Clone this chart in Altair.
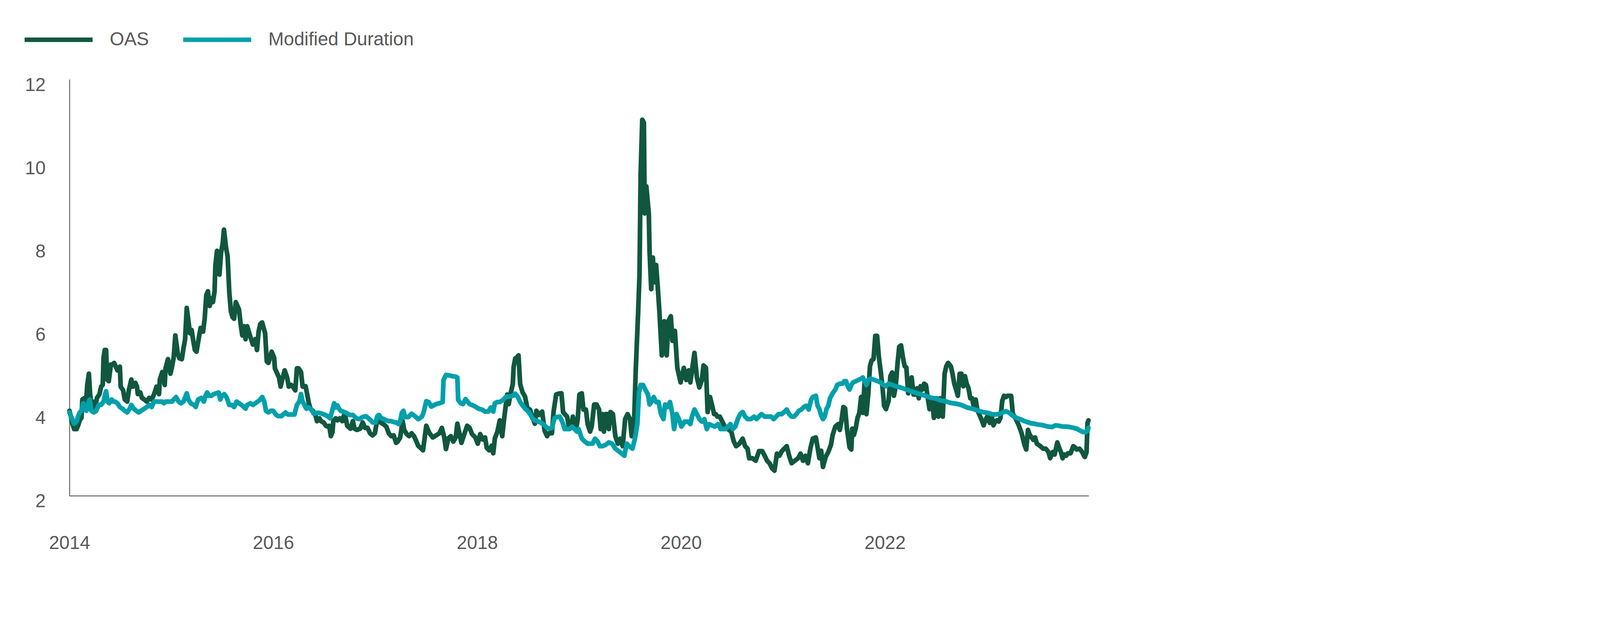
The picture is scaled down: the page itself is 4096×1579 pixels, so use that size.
import altair as alt
import pandas as pd

# ---- data (decimal year, value) ----
OAS_YEARS = [
2014.000,2014.014,2014.030,2014.046,2014.070,2014.086,2014.102,2014.118,2014.127,2014.151,2014.162,2014.175,2014.191,2014.203,2014.215,2014.231,2014.247,2014.271,2014.295,2014.311,
2014.327,2014.335,2014.347,2014.360,2014.370,2014.386,2014.407,2014.423,2014.439,2014.455,2014.471,2014.495,2014.503,2014.527,2014.543,2014.567,2014.583,2014.607,2014.623,2014.647,
2014.663,2014.671,2014.695,2014.711,2014.735,2014.759,2014.783,2014.807,2014.831,2014.855,2014.879,2014.887,2014.911,2014.935,2014.943,2014.967,2014.991,2015.007,2015.023,2015.039,
2015.063,2015.079,2015.103,2015.119,2015.135,2015.151,2015.167,2015.183,2015.199,2015.215,2015.231,2015.247,2015.271,2015.287,2015.311,2015.327,2015.343,2015.359,2015.376,2015.392,
2015.408,2015.424,2015.432,2015.448,2015.464,2015.472,2015.488,2015.504,2015.516,2015.536,2015.552,2015.568,2015.584,2015.600,2015.616,2015.632,2015.648,2015.664,2015.680,2015.696,
2015.712,2015.728,2015.744,2015.760,2015.776,2015.800,2015.824,2015.840,2015.856,2015.872,2015.891,2015.920,2015.936,2015.952,2015.968,2015.984,2016.008,2016.016,2016.032,2016.056,
2016.072,2016.088,2016.112,2016.136,2016.152,2016.176,2016.192,2016.216,2016.232,2016.248,2016.272,2016.288,2016.317,2016.333,2016.349,2016.365,2016.389,2016.413,2016.429,2016.453,
2016.469,2016.493,2016.517,2016.533,2016.549,2016.565,2016.581,2016.589,2016.613,2016.629,2016.653,2016.677,2016.701,2016.725,2016.757,2016.781,2016.797,2016.821,2016.853,2016.877,
2016.901,2016.925,2016.949,2016.973,2016.997,2017.021,2017.053,2017.085,2017.109,2017.133,2017.157,2017.181,2017.205,2017.221,2017.245,2017.269,2017.285,2017.309,2017.333,2017.357,
2017.381,2017.405,2017.421,2017.445,2017.469,2017.501,2017.533,2017.565,2017.598,2017.630,2017.654,2017.678,2017.694,2017.718,2017.742,2017.766,2017.790,2017.806,2017.830,2017.846,
2017.870,2017.902,2017.926,2017.950,2017.982,2018.006,2018.030,2018.054,2018.078,2018.094,2018.118,2018.142,2018.158,2018.174,2018.198,2018.222,2018.246,2018.262,2018.294,2018.310,
2018.326,2018.350,2018.358,2018.374,2018.390,2018.406,2018.422,2018.446,2018.470,2018.494,2018.518,2018.542,2018.566,2018.582,2018.606,2018.638,2018.662,2018.686,2018.702,2018.734,
2018.750,2018.775,2018.799,2018.827,2018.843,2018.859,2018.883,2018.899,2018.923,2018.939,2018.955,2018.971,2018.987,2019.003,2019.027,2019.043,2019.067,2019.084,2019.108,2019.124,
2019.148,2019.172,2019.196,2019.212,2019.228,2019.244,2019.260,2019.276,2019.292,2019.308,2019.332,2019.356,2019.380,2019.404,2019.428,2019.452,2019.476,2019.500,2019.516,2019.540,
2019.556,2019.580,2019.593,2019.604,2019.620,2019.636,2019.644,2019.660,2019.684,2019.692,2019.708,2019.724,2019.740,2019.756,2019.772,2019.788,2019.812,2019.836,2019.860,2019.876,
2019.900,2019.916,2019.940,2019.964,2019.996,2020.028,2020.052,2020.076,2020.092,2020.108,2020.132,2020.156,2020.180,2020.205,2020.221,2020.245,2020.261,2020.285,2020.309,2020.325,
2020.341,2020.357,2020.381,2020.405,2020.429,2020.461,2020.493,2020.517,2020.541,2020.573,2020.605,2020.629,2020.653,2020.669,2020.701,2020.733,2020.765,2020.797,2020.821,2020.845,
2020.869,2020.893,2020.917,2020.941,2020.965,2020.989,2021.013,2021.037,2021.061,2021.085,2021.117,2021.149,2021.173,2021.197,2021.221,2021.245,2021.269,2021.293,2021.323,2021.340,
2021.358,2021.375,2021.393,2021.419,2021.445,2021.471,2021.488,2021.514,2021.541,2021.558,2021.575,2021.593,2021.610,2021.628,2021.654,2021.671,2021.680,2021.697,2021.715,2021.732,
2021.750,2021.767,2021.784,2021.802,2021.819,2021.837,2021.854,2021.871,2021.889,2021.906,2021.924,2021.941,2021.959,2021.976,2021.993,2022.011,2022.037,2022.054,2022.072,2022.089,
2022.107,2022.124,2022.141,2022.159,2022.176,2022.194,2022.211,2022.229,2022.246,2022.263,2022.281,2022.298,2022.316,2022.333,2022.350,2022.368,2022.385,2022.403,2022.420,2022.438,
2022.464,2022.481,2022.507,2022.525,2022.542,2022.568,2022.586,2022.603,2022.621,2022.647,2022.664,2022.681,2022.699,2022.716,2022.734,2022.751,2022.769,2022.786,2022.803,2022.821,
2022.838,2022.856,2022.873,2022.891,2022.908,2022.925,2022.951,2022.969,2022.986,2023.004,2023.030,2023.047,2023.065,2023.082,2023.100,2023.117,2023.134,2023.152,2023.169,2023.187,
2023.204,2023.221,2023.239,2023.256,2023.274,2023.291,2023.309,2023.326,2023.343,2023.370,2023.387,2023.404,2023.422,2023.439,2023.457,2023.474,2023.491,2023.509,2023.526,2023.552,
2023.578,2023.605,2023.622,2023.648,2023.666,2023.692,2023.709,2023.727,2023.744,2023.761,2023.779,2023.796,2023.822,2023.849,2023.866,2023.883,2023.909,2023.936,2023.953,2023.962,
2023.979,2023.988,2023.998,
]
OAS_VALUES = [
4.04,3.91,3.73,3.60,3.60,3.69,3.82,3.87,4.31,4.35,4.18,4.66,4.93,4.44,4.18,4.26,4.09,4.35,4.44,4.62,
4.66,5.32,5.50,5.50,4.79,4.75,5.15,5.15,5.19,5.10,5.01,5.10,4.62,4.53,4.31,4.26,4.53,4.79,4.62,4.71,
4.62,4.44,4.48,4.35,4.31,4.26,4.35,4.31,4.44,4.62,4.44,4.79,4.97,4.66,5.06,5.28,4.93,5.10,5.32,5.85,
5.41,5.30,5.28,5.54,5.76,6.51,6.21,5.90,5.98,5.72,5.50,5.46,5.81,6.03,5.94,6.25,6.82,6.91,6.56,6.74,
6.65,6.91,7.53,7.88,7.40,7.31,7.84,8.06,8.39,7.97,7.75,6.91,6.43,6.29,6.25,6.65,6.56,6.47,6.12,5.85,
6.07,5.76,6.07,5.94,5.81,5.63,5.76,5.50,5.94,6.12,6.16,5.90,5.23,5.19,5.32,5.46,5.32,5.06,4.97,4.84,
4.62,4.79,5.01,4.84,4.62,4.66,4.62,4.53,5.06,5.06,4.97,4.62,4.63,4.43,4.22,4.09,4.04,3.94,3.79,3.86,
3.79,3.76,3.68,3.66,3.68,3.43,3.53,3.79,3.86,3.81,3.86,3.79,3.99,3.68,3.61,3.79,3.61,3.58,3.61,3.76,
3.63,3.63,3.50,3.45,3.50,3.84,3.76,3.71,3.66,3.50,3.43,3.45,3.27,3.30,3.40,3.79,3.58,3.48,3.43,3.50,
3.43,3.30,3.20,3.15,3.09,3.68,3.50,3.40,3.45,3.50,3.63,3.40,3.12,3.38,3.43,3.30,3.40,3.73,3.45,3.27,
3.45,3.68,3.63,3.48,3.40,3.25,3.48,3.35,3.40,3.15,3.09,3.20,3.02,3.38,3.53,3.81,3.43,3.79,4.43,4.20,
4.43,4.68,5.09,5.30,5.32,5.37,4.68,4.48,4.38,4.09,4.07,3.89,3.73,4.04,3.94,4.02,3.56,3.43,3.50,3.50,
4.02,4.43,4.45,4.46,4.01,3.96,3.90,3.66,3.63,3.90,3.72,3.60,3.84,4.43,4.46,4.07,4.07,3.72,3.54,3.66,
4.19,4.19,4.07,3.60,3.96,3.54,3.96,3.96,3.60,4.01,3.96,3.43,3.25,3.37,3.19,3.84,3.96,3.84,3.43,3.78,
5.01,6.43,7.31,9.72,11.03,10.96,8.78,9.43,8.78,7.84,6.96,7.72,7.13,7.54,7.01,6.43,5.37,6.19,5.37,6.19,
6.31,5.72,5.96,5.07,4.72,5.07,4.78,5.01,4.72,5.01,5.43,4.84,4.60,4.78,5.13,5.07,4.01,4.37,4.13,3.96,
3.96,3.90,3.90,3.78,3.66,3.60,3.54,3.31,3.19,3.25,3.37,3.19,3.13,2.90,2.90,2.84,3.07,3.07,2.96,2.84,
2.78,2.66,2.60,3.01,2.96,3.07,3.13,3.19,2.96,2.78,2.84,2.90,3.01,2.84,2.96,2.78,3.13,3.37,3.40,3.16,
2.90,3.08,2.69,2.93,3.05,3.22,3.46,3.66,3.72,3.58,3.81,4.13,4.10,3.61,3.16,3.11,3.61,3.46,3.63,3.87,
3.99,4.37,3.99,4.75,3.96,4.43,5.11,5.25,5.28,5.84,5.84,5.34,4.99,4.63,4.16,4.08,4.28,4.87,4.96,4.40,
4.63,5.16,5.58,5.61,5.34,5.11,5.08,4.46,4.61,4.84,4.43,4.43,4.58,4.34,4.63,4.55,4.69,4.66,4.37,4.08,
4.28,3.87,4.34,3.90,4.34,3.90,4.93,5.11,5.19,5.11,4.93,4.69,4.55,4.40,4.93,4.93,4.63,4.87,4.69,4.58,
4.34,4.34,4.13,4.31,4.05,3.96,3.81,3.69,3.81,3.90,3.75,3.93,3.69,3.78,3.81,3.78,3.87,4.28,4.40,4.37,
4.40,4.40,4.40,3.96,3.90,3.81,3.72,3.61,3.49,3.22,3.11,3.58,3.46,3.40,3.34,3.40,3.25,3.22,3.19,3.13,
3.13,3.05,2.90,3.05,2.99,3.28,3.16,3.05,2.90,2.99,2.96,3.02,3.02,3.19,3.16,3.11,3.13,3.05,2.96,2.93,
3.05,3.75,3.81,
]

MD_YEARS = [
2014.000,2014.022,2014.046,2014.070,2014.086,2014.102,2014.118,2014.135,2014.151,2014.167,2014.183,2014.199,2014.215,2014.239,2014.263,2014.287,2014.311,2014.335,2014.351,2014.360,
2014.375,2014.391,2014.415,2014.431,2014.447,2014.471,2014.495,2014.519,2014.543,2014.567,2014.591,2014.607,2014.631,2014.655,2014.679,2014.703,2014.735,2014.759,2014.783,2014.807,
2014.831,2014.855,2014.879,2014.911,2014.927,2014.943,2014.975,2015.007,2015.023,2015.047,2015.071,2015.095,2015.119,2015.151,2015.167,2015.191,2015.223,2015.239,2015.263,2015.295,
2015.319,2015.335,2015.351,2015.368,2015.392,2015.416,2015.440,2015.464,2015.480,2015.496,2015.520,2015.544,2015.568,2015.592,2015.616,2015.640,2015.664,2015.688,2015.712,2015.728,
2015.744,2015.776,2015.800,2015.824,2015.848,2015.872,2015.891,2015.912,2015.928,2015.952,2015.976,2016.000,2016.024,2016.048,2016.080,2016.096,2016.120,2016.144,2016.176,2016.208,
2016.232,2016.256,2016.272,2016.288,2016.301,2016.325,2016.349,2016.373,2016.397,2016.429,2016.453,2016.477,2016.509,2016.533,2016.557,2016.581,2016.597,2016.613,2016.629,2016.645,
2016.661,2016.685,2016.717,2016.749,2016.781,2016.813,2016.845,2016.877,2016.909,2016.933,2016.957,2016.973,2017.005,2017.021,2017.037,2017.061,2017.085,2017.109,2017.133,2017.157,
2017.181,2017.205,2017.229,2017.245,2017.261,2017.277,2017.293,2017.325,2017.357,2017.389,2017.421,2017.437,2017.461,2017.477,2017.501,2017.525,2017.550,2017.574,2017.598,2017.630,
2017.662,2017.670,2017.694,2017.726,2017.758,2017.790,2017.806,2017.814,2017.838,2017.862,2017.886,2017.902,2017.926,2017.958,2017.982,2018.014,2018.046,2018.078,2018.110,2018.134,
2018.158,2018.174,2018.198,2018.222,2018.254,2018.286,2018.318,2018.350,2018.374,2018.398,2018.422,2018.446,2018.470,2018.494,2018.518,2018.542,2018.566,2018.590,2018.622,2018.654,
2018.686,2018.710,2018.734,2018.759,2018.783,2018.811,2018.835,2018.859,2018.883,2018.907,2018.931,2018.955,2018.979,2018.996,2019.012,2019.028,2019.052,2019.084,2019.108,2019.132,
2019.156,2019.180,2019.204,2019.228,2019.260,2019.292,2019.324,2019.356,2019.388,2019.420,2019.444,2019.468,2019.492,2019.524,2019.548,2019.572,2019.588,2019.604,2019.628,2019.652,
2019.676,2019.692,2019.708,2019.732,2019.756,2019.780,2019.804,2019.828,2019.844,2019.868,2019.892,2019.916,2019.932,2019.956,2019.980,2020.004,2020.036,2020.068,2020.092,2020.108,
2020.132,2020.156,2020.180,2020.205,2020.229,2020.253,2020.277,2020.301,2020.333,2020.365,2020.389,2020.413,2020.437,2020.461,2020.485,2020.509,2020.533,2020.557,2020.581,2020.605,
2020.629,2020.653,2020.685,2020.717,2020.741,2020.765,2020.789,2020.821,2020.853,2020.885,2020.909,2020.933,2020.957,2020.989,2021.013,2021.037,2021.061,2021.085,2021.109,2021.133,
2021.157,2021.181,2021.205,2021.229,2021.253,2021.277,2021.293,2021.323,2021.340,2021.358,2021.375,2021.393,2021.410,2021.427,2021.445,2021.462,2021.488,2021.514,2021.532,2021.558,
2021.584,2021.602,2021.619,2021.636,2021.654,2021.671,2021.689,2021.715,2021.741,2021.767,2021.784,2021.802,2021.819,2021.837,2021.863,2021.898,2021.932,2021.959,2021.985,2022.011,
2022.037,2022.072,2022.107,2022.141,2022.176,2022.211,2022.246,2022.281,2022.316,2022.350,2022.385,2022.420,2022.455,2022.490,2022.525,2022.560,2022.594,2022.629,2022.664,2022.699,
2022.734,2022.769,2022.803,2022.838,2022.873,2022.908,2022.943,2022.978,2023.012,2023.047,2023.082,2023.117,2023.152,2023.187,2023.221,2023.256,2023.291,2023.326,2023.361,2023.396,
2023.431,2023.465,2023.500,2023.535,2023.570,2023.605,2023.640,2023.674,2023.709,2023.744,2023.779,2023.814,2023.849,2023.883,2023.918,2023.944,2023.971,2023.988,2023.998,
]
MD_VALUES = [
4.00,3.87,3.73,3.78,3.91,4.00,4.04,4.22,4.13,4.04,4.22,4.31,4.04,4.00,4.04,4.18,4.18,4.26,4.44,4.51,
4.26,4.22,4.31,4.26,4.26,4.22,4.13,4.09,4.04,4.00,4.09,4.18,4.09,4.04,4.00,4.04,4.09,4.13,4.18,4.13,
4.26,4.26,4.26,4.26,4.22,4.26,4.26,4.26,4.31,4.37,4.26,4.22,4.26,4.46,4.31,4.22,4.18,4.13,4.31,4.35,
4.26,4.40,4.48,4.40,4.40,4.44,4.46,4.48,4.31,4.40,4.44,4.35,4.18,4.18,4.13,4.26,4.22,4.18,4.13,4.09,
4.18,4.22,4.18,4.22,4.26,4.31,4.37,4.26,4.04,4.00,4.04,4.04,3.95,3.91,3.91,3.95,4.00,3.95,3.95,3.95,
4.18,4.26,4.44,4.26,4.20,4.09,4.12,4.07,3.97,3.99,3.99,3.97,3.94,3.91,3.86,4.07,4.22,4.12,4.17,4.09,
4.04,4.02,3.99,3.94,3.94,3.86,3.84,3.89,3.91,3.86,3.81,3.76,3.76,3.91,3.94,3.86,3.84,3.81,3.79,3.79,
3.77,3.76,3.72,3.79,3.99,4.04,3.89,3.89,3.97,3.91,3.84,3.86,3.91,4.02,4.27,4.25,4.14,4.17,4.20,4.22,
4.25,4.78,4.90,4.89,4.87,4.86,4.84,4.30,4.22,4.20,4.32,4.27,4.20,4.17,4.14,4.09,4.07,4.02,4.02,4.12,
4.02,4.22,4.25,4.25,4.30,4.38,4.38,4.40,4.45,4.38,4.25,4.17,4.09,4.04,3.97,3.86,3.81,3.79,3.76,3.71,
3.63,3.61,3.63,3.86,3.89,3.90,3.78,3.60,3.60,3.60,3.66,3.60,3.54,3.60,3.48,3.37,3.31,3.25,3.25,3.25,
3.37,3.31,3.19,3.19,3.22,3.28,3.25,3.13,3.07,3.01,2.96,3.25,3.19,3.13,3.37,3.72,4.48,4.66,4.66,4.54,
4.43,4.19,4.25,4.37,4.25,4.25,3.96,3.84,4.19,4.13,4.25,3.96,3.60,3.96,3.84,3.66,3.78,3.78,3.72,3.90,
4.07,3.96,3.84,3.78,3.84,3.60,3.72,3.69,3.66,3.72,3.60,3.60,3.60,3.66,3.72,3.60,3.66,3.84,3.96,4.01,
3.90,3.84,3.84,3.90,3.84,3.90,3.96,3.90,3.90,3.90,3.84,3.90,3.96,3.96,4.01,4.07,3.96,3.90,3.90,3.96,
4.04,4.07,4.13,4.16,4.07,4.31,4.37,4.40,4.16,4.08,3.93,3.84,3.90,4.08,4.16,4.34,4.46,4.55,4.66,4.69,
4.69,4.75,4.75,4.63,4.55,4.66,4.72,4.75,4.78,4.81,4.84,4.75,4.66,4.78,4.81,4.78,4.75,4.72,4.66,4.63,
4.69,4.66,4.63,4.61,4.58,4.55,4.52,4.49,4.46,4.44,4.41,4.38,4.35,4.34,4.31,4.28,4.27,4.24,4.22,4.21,
4.19,4.16,4.12,4.10,4.08,4.05,4.02,4.00,3.99,3.96,3.95,3.96,3.99,4.03,3.99,3.92,3.87,3.84,3.80,3.77,
3.74,3.73,3.71,3.70,3.68,3.66,3.65,3.69,3.68,3.66,3.66,3.65,3.63,3.61,3.56,3.53,3.53,3.56,3.63,
]

SERIES = ["OAS", "Modified Duration"]
COLORS = ["#115740", "#00A0AB"]
X_TICKS = [2014, 2016, 2018, 2020, 2022]
Y_TICKS = [2, 4, 6, 8, 10, 12]

rows = []
for name, ys, vs in [(SERIES[0], OAS_YEARS, OAS_VALUES), (SERIES[1], MD_YEARS, MD_VALUES)]:
    for t, v in zip(ys, vs):
        rows.append({"year": t, "value": v, "series": name})
df = pd.DataFrame(rows)

FONT = "Liberation Sans"
TXT = "#595959"
AX = "#6F6F6F"
FS = 47.5

color = alt.Color(
    "series:N",
    scale=alt.Scale(domain=SERIES, range=COLORS),
    legend=alt.Legend(
        title=None,
        orient="none",
        direction="horizontal",
        legendX=-120.7,
        legendY=-194.5,
        symbolType="stroke",
        symbolSize=174 * 174,
        symbolStrokeWidth=11.5,
        labelFontSize=FS,
        labelFont=FONT,
        labelColor=TXT,
        labelOffset=38,
        labelLimit=2000,
        columnPadding=64,
        padding=0,
    ),
)

x = alt.X(
    "year:Q",
    scale=alt.Scale(domain=[2014, 2024], nice=False, zero=False),
    axis=alt.Axis(
        title=None, values=X_TICKS, format="d", ticks=False, grid=False,
        domainColor=AX, domainWidth=2.6, labelFlush=False,
        labelFont=FONT, labelFontSize=FS, labelColor=TXT,
        labelBaseline="middle", labelPadding=122.4,
    ),
)
y = alt.Y(
    "value:Q",
    scale=alt.Scale(domain=[2, 12], nice=False, zero=False),
    axis=alt.Axis(
        title=None, values=Y_TICKS, ticks=False, grid=False,
        domainColor=AX, domainWidth=2.6,
        labelFont=FONT, labelFontSize=FS, labelColor=TXT,
        labelBaseline="middle", labelOffset=15.2, labelPadding=61.4,
    ),
)

base = alt.Chart(df).mark_line(strokeWidth=12, strokeJoin="round", strokeCap="round").encode(
    x=x, y=y, color=color
)
oas = base.transform_filter(alt.datum.series == "OAS")
md = base.transform_filter(alt.datum.series == "Modified Duration")

chart = alt.layer(oas, md).properties(
    width=2609.4,
    height=1065.5,
    background="white",
    autosize=alt.AutoSizeParams(type="none"),
    padding={"left": 169.7, "top": 195.1, "right": 1290, "bottom": 300},
).configure_view(stroke=None, strokeWidth=0)

chart.save("out.html", embed_options={"renderer": "svg", "actions": False})
